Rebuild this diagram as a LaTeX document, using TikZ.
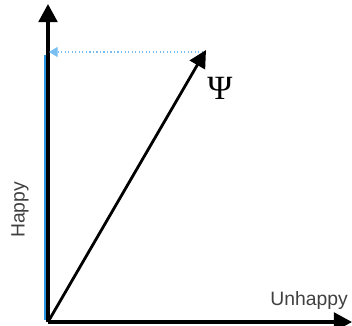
\documentclass[tikz,border=0pt]{standalone}
\usepackage{fontspec}
\setmainfont{Liberation Sans}
\newfontfamily\psifont{Liberation Serif}
\usetikzlibrary{arrows.meta}
\definecolor{happyblue}{RGB}{40,150,225}
\definecolor{lightblue}{RGB}{120,190,240}
\tikzset{
  axis/.style={line width=2.6pt, -{Triangle[length=5.4mm, width=5.6mm]}},
  state/.style={line width=2.4pt, -{Triangle[length=5.2mm, width=5.2mm]}},
  label/.style={font=\fontsize{16.5}{19}\selectfont, text=black!75}
}
\begin{document}
\begin{tikzpicture}[x=0.03cm, y=-0.03cm]
    \useasboundingbox (0,0) rectangle (352,326);
    % Axes
    \coordinate (O) at (48,322);
    \coordinate (ytop) at (48,4);
    \coordinate (xend) at (352,322);
    \coordinate (psi) at (206,50);
    \coordinate (bluetop) at (45.5,55);
    \coordinate (bluebot) at (45.5,320);
    \coordinate (proj) at (49,52);
    \coordinate (dotstart) at (203,52);

    \draw[happyblue, line width=2.8pt] (bluebot) -- (bluetop);
    \draw[axis] (O) -- (ytop);
    \draw[axis] (O) -- (xend);

    % State vector and projection
    \draw[lightblue, line width=1pt, dotted, -{Triangle[length=2.6mm, width=3mm]}] (dotstart) -- (proj);
    \draw[state] (O) -- (psi);
    \node[font=\psifont\fontsize{29}{32}\selectfont] (psilabel) at (220,88) {Ψ};

    \node[label, rotate=90] (happy) at (20,210) {Happy};
    \node[label] (unhappy) at (309,300) {Unhappy};
\end{tikzpicture}
\end{document}
